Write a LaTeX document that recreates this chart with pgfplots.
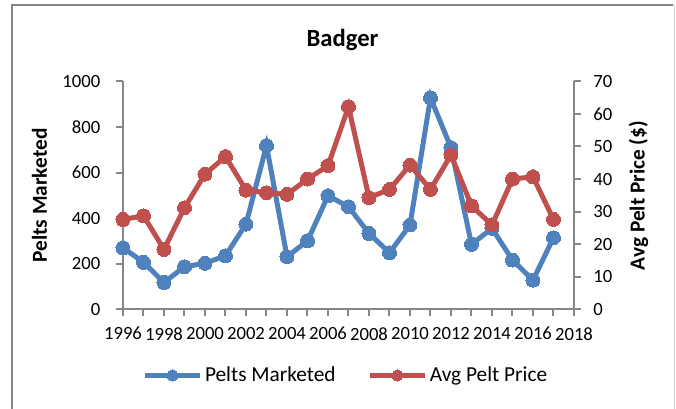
\documentclass[border=0pt]{standalone}
\usepackage{pgfplots}
\pgfplotsset{compat=1.18}
\usepackage{fontspec}
\setmainfont{Carlito}
\definecolor{pblue}{RGB}{79,129,189}
\definecolor{pred}{RGB}{192,80,77}
\definecolor{axgray}{RGB}{134,134,134}
\pgfplotsset{
  /pgf/number format/1000 sep={},
  /pgf/number format/assume math mode=true,
  badger/.style={
    at={(92.25pt,74pt)}, anchor=south west,
    scale only axis, width=338.25pt, height=171pt,
    xmin=1996, xmax=2018,
    axis line style={axgray, line width=1.5pt},
    tick style={axgray, line width=1.5pt},
    tick align=outside,
    major tick length=5pt, minor tick length=5pt,
    ticklabel style={font=\fontsize{14}{16}\selectfont, text=black},
  },
  pelts/.style={pblue, line width=3.75pt, mark=*, mark size=5.25pt,
    mark options={solid, fill=pblue, draw=pblue, line width=0pt}},
  price/.style={pred, line width=3.75pt, mark=*, mark size=5.25pt,
    mark options={solid, fill=pred, draw=pred, line width=0pt}},
}
\begin{document}
\begin{tikzpicture}[x=0.75pt,y=0.75pt]
\useasboundingbox (0,0) rectangle (676,408);
\draw[axgray, line width=1.5pt] (11.5,-5) -- (11.5,402.5) -- (673,402.5);
\draw[gray!35, line width=1pt] (673,402.5) -- (674.5,402.5) -- (674.5,-5);

% left axis: pelts marketed
\begin{axis}[badger,
  ymin=0, ymax=1000,
  axis x line*=bottom, axis y line*=left,
  xtick={1996,1998,...,2018}, minor xtick={1997,1999,...,2017},
  ytick={0,200,...,1000},
  yticklabel style={xshift=-8.5pt},
  xticklabel style={yshift=-5pt},
]
\addplot[pelts] coordinates {
  (1996,270) (1997,206) (1998,118) (1999,187) (2000,202) (2001,235)
  (2002,374) (2003,718) (2004,231) (2005,300) (2006,498) (2007,450)
  (2008,333) (2009,248) (2010,370) (2011,928) (2012,709) (2013,285)
  (2014,355) (2015,216) (2016,128) (2017,314)
};
\end{axis}

% right axis: average pelt price
\begin{axis}[badger,
  ymin=0, ymax=70,
  axis x line=none, axis y line*=right,
  ytick={0,10,...,70},
  yticklabel style={xshift=6pt},
  legend columns=2,
  legend style={at={(0.495,-0.29)}, anchor=center, draw=none, fill=none,
    font=\fontsize{16}{19}\selectfont,
    /tikz/every even column/.append style={column sep=22pt}},
  legend image code/.code={
    \draw[mark repeat=2, mark phase=2, mark size=4.2pt]
      plot coordinates {(0pt,0pt) (20.5pt,0pt) (41pt,0pt)};
  },
]
\addlegendimage{pelts}
\addlegendentry{Pelts Marketed}
\addplot[price] coordinates {
  (1996,27.6) (1997,28.7) (1998,18.4) (1999,31.2) (2000,41.5) (2001,46.9)
  (2002,36.6) (2003,35.8) (2004,35.3) (2005,40.0) (2006,44.1) (2007,62.2)
  (2008,34.3) (2009,36.8) (2010,44.3) (2011,36.8) (2012,47.4) (2013,31.8)
  (2014,25.9) (2015,40.0) (2016,40.7) (2017,27.6)
};
\addlegendentry{Avg Pelt Price}
\end{axis}

\node[font=\bfseries\fontsize{18.5}{22}\selectfont, anchor=base] at (342.5,361) {Badger};
\node[font=\bfseries\fontsize{16}{19}\selectfont, rotate=90] at (39.5,212.5) {Pelts Marketed};
\node[font=\bfseries\fontsize{16}{19}\selectfont, rotate=90] at (638.5,212.5) {Avg Pelt Price (\$)};
\end{tikzpicture}
\end{document}
